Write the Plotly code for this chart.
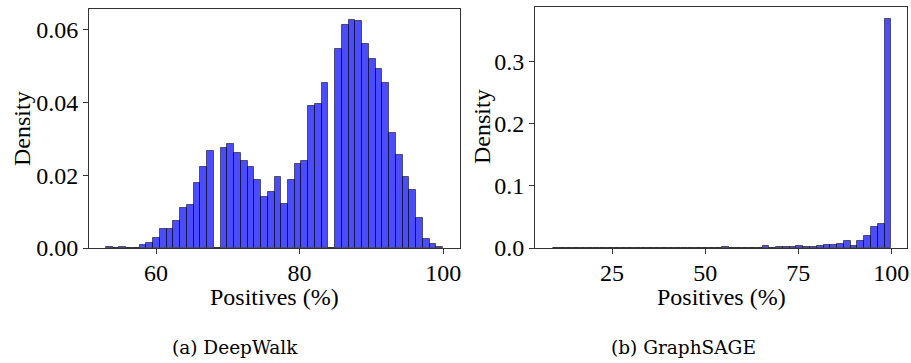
import numpy as np
import plotly.graph_objects as go

# ---- data ----
deepwalk_range = (53.0, 100.0)
deepwalk_density = [
    0.0003, 0.0, 0.0003, 0.0, 0.0, 0.0007, 0.0015, 0.0027, 0.0051, 0.0051,
    0.0075, 0.0109, 0.0117, 0.0180, 0.0223, 0.0266, 0.0, 0.0274, 0.0285, 0.0262,
    0.0238, 0.0223, 0.0188, 0.0140, 0.0153, 0.0195, 0.0121, 0.0188, 0.0231, 0.0238,
    0.0391, 0.0395, 0.0454, 0.0, 0.0548, 0.0612, 0.0626, 0.0623, 0.0560, 0.0520,
    0.0493, 0.0454, 0.0317, 0.0257, 0.0195, 0.0160, 0.0082, 0.0024, 0.0011, 0.0003,
]
graphsage_range = (9.0, 100.0)
graphsage_density = [
    0.0008, 0.0008, 0.0, 0.0008, 0.0008, 0.0, 0.0005, 0.0008, 0.0, 0.0008,
    0.0008, 0.0, 0.0008, 0.0, 0.0008, 0.0008, 0.0008, 0.0008, 0.0008, 0.0,
    0.0008, 0.0008, 0.0005, 0.0005, 0.0005, 0.0020, 0.0008, 0.0008, 0.0008, 0.0008,
    0.0008, 0.0025, 0.0008, 0.0015, 0.0020, 0.0020, 0.0027, 0.0016, 0.0010, 0.0030,
    0.0043, 0.0043, 0.0060, 0.0120, 0.0040, 0.0120, 0.0190, 0.0330, 0.0380, 0.3690,
]
left_xticks = [60, 80, 100]
left_yticks = [0.00, 0.02, 0.04, 0.06]
right_xticks = [25, 50, 75, 100]
right_yticks = [0.0, 0.1, 0.2, 0.3]
captions = ["(a) DeepWalk", "(b) GraphSAGE"]
x_title = "Positives (%)"
y_title = "Density"

W, H = 911, 363
FONT = "Liberation Serif"
CAP_FONT = "DejaVu Serif"
FILL = "rgba(0,0,255,0.7)"
EDGE = "rgba(0,0,0,0.55)"
SPINE = "#333333"


def bins(rng, vals):
    edges = np.linspace(rng[0], rng[1], len(vals) + 1)
    centers = (edges[:-1] + edges[1:]) / 2
    return centers, edges[1] - edges[0]


fig = go.Figure()
for vals, rng, ax in [(deepwalk_density, deepwalk_range, ""), (graphsage_density, graphsage_range, "2")]:
    c, w = bins(rng, vals)
    fig.add_trace(go.Bar(
        x=c, y=vals, width=w,
        marker=dict(color=FILL, line=dict(color=EDGE, width=1)),
        xaxis="x" + ax, yaxis="y" + ax, showlegend=False, hoverinfo="x+y",
    ))


def px(x):
    return x / W


def py(y):
    return 1 - y / H


axis_common = dict(
    showgrid=False, zeroline=False, showline=True, linecolor=SPINE, linewidth=1,
    mirror=True, ticks="outside", ticklen=5, tickwidth=1, tickcolor=SPINE,
    automargin=False,
    tickfont=dict(family=FONT, size=24, color="black"),
)

fig.update_layout(
    width=W, height=H, margin=dict(l=0, r=0, t=0, b=0, autoexpand=False),
    paper_bgcolor="white", plot_bgcolor="white", bargap=0,
    xaxis=dict(domain=[px(89), px(460)], range=[50.65, 102.35], tickvals=left_xticks,
               anchor="y", **axis_common),
    yaxis=dict(domain=[py(248), py(9)], range=[0, 0.0657], tickvals=left_yticks,
               tickformat=".2f", anchor="x", **axis_common),
    xaxis2=dict(domain=[px(535), px(907)], range=[4.3, 104.2], tickvals=right_xticks,
                anchor="y2", **axis_common),
    yaxis2=dict(domain=[py(248), py(7)], range=[0, 0.3875], tickvals=right_yticks,
                tickformat=".1f", anchor="x2", **axis_common),
)
try:
    fig.update_xaxes(ticklabelstandoff=-2)
except Exception:
    pass

ann = [
    dict(text=x_title, x=px(274), y=py(297), size=24, font=FONT),
    dict(text=x_title, x=px(721), y=py(297), size=24, font=FONT),
    dict(text=captions[0], x=px(235), y=py(347), size=18.5, font=CAP_FONT),
    dict(text=captions[1], x=px(683), y=py(347), size=18.5, font=CAP_FONT),
]
for a in ann:
    fig.add_annotation(text=a["text"], x=a["x"], y=a["y"], xref="paper", yref="paper",
                       showarrow=False, xanchor="center", yanchor="middle", borderpad=0,
                       font=dict(family=a["font"], size=a["size"], color="black"))
for xx, yy in [(22, 129), (482, 127)]:
    fig.add_annotation(text=y_title, x=px(xx), y=py(yy), xref="paper", yref="paper",
                       showarrow=False, xanchor="center", yanchor="middle", textangle=-90,
                       borderpad=0,
                       font=dict(family=FONT, size=24, color="black"))

fig.write_html("out.html", config={"displayModeBar": False},
               post_script="document.body.style.margin='0';")
